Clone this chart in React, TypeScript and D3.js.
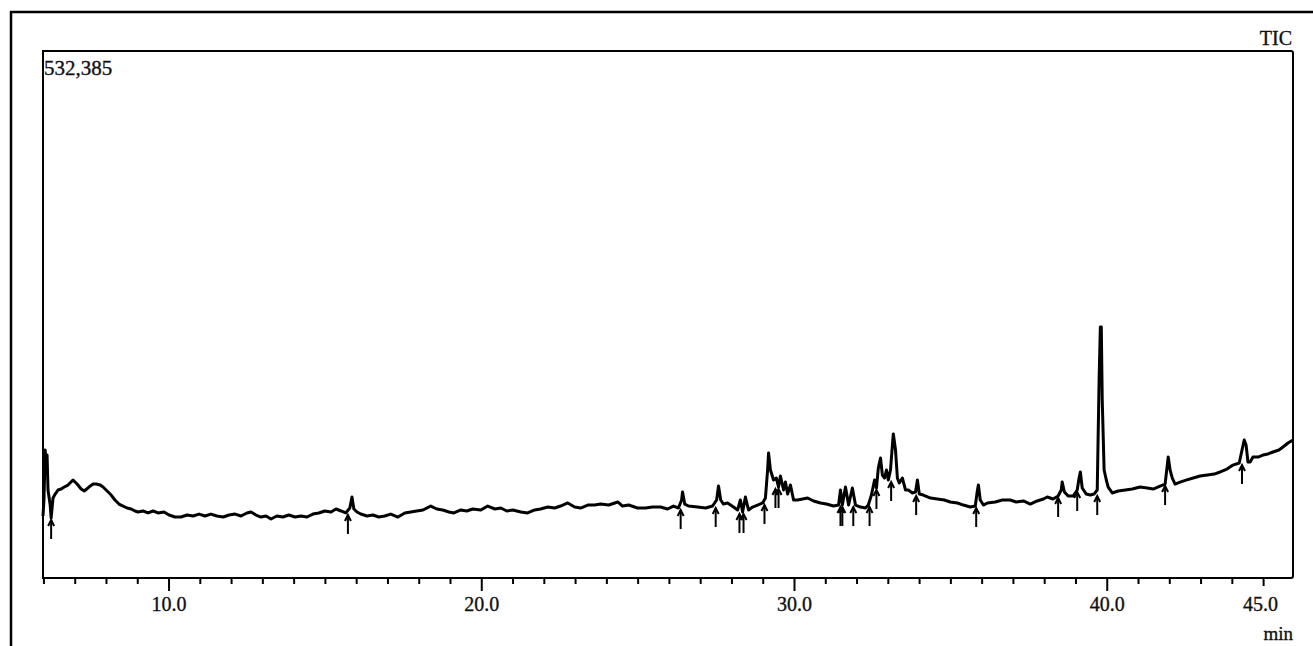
import { useEffect, useRef } from "react";
import * as d3 from "d3";

// retention time (min) of each sampled point of the TIC trace
const retentionTimes = [
  5.97, 6.0, 6.04, 6.07, 6.1, 6.13, 6.2, 6.23, 6.29, 6.36, 6.45, 6.55, 6.65, 6.77, 6.93, 7.06, 7.19, 7.29, 7.44, 7.57,
  7.67, 7.8, 7.89, 8.02, 8.15, 8.27, 8.4, 8.53, 8.66, 8.79, 8.91, 9.01, 9.17, 9.33, 9.49, 9.65, 9.84, 10.0, 10.19, 10.38,
  10.58, 10.77, 10.96, 11.15, 11.34, 11.53, 11.73, 11.92, 12.11, 12.3, 12.49, 12.62, 12.78, 12.94, 13.1, 13.26, 13.45,
  13.64, 13.83, 14.03, 14.22, 14.41, 14.6, 14.79, 14.98, 15.18, 15.34, 15.5, 15.65, 15.78, 15.85, 15.91, 16.01, 16.13,
  16.33, 16.52, 16.71, 16.9, 17.09, 17.32, 17.54, 17.73, 17.92, 18.12, 18.37, 18.56, 18.75, 18.95, 19.11, 19.33, 19.52,
  19.71, 19.97, 20.19, 20.42, 20.61, 20.8, 20.99, 21.25, 21.47, 21.69, 21.88, 22.11, 22.33, 22.52, 22.75, 22.97, 23.16,
  23.39, 23.61, 23.8, 24.06, 24.35, 24.5, 24.7, 24.98, 25.24, 25.46, 25.72, 25.94, 26.13, 26.29, 26.39, 26.42, 26.49,
  26.61, 26.9, 27.16, 27.38, 27.51, 27.57, 27.64, 27.73, 27.86, 28.05, 28.18, 28.27, 28.34, 28.43, 28.53, 28.66, 28.82,
  28.98, 29.07, 29.14, 29.17, 29.23, 29.33, 29.42, 29.49, 29.55, 29.65, 29.71, 29.78, 29.87, 29.97, 30.1, 30.26, 30.42,
  30.61, 30.83, 31.02, 31.25, 31.41, 31.47, 31.53, 31.63, 31.73, 31.85, 31.95, 32.11, 32.27, 32.36, 32.46, 32.56, 32.62,
  32.68, 32.75, 32.81, 32.88, 32.94, 33.0, 33.07, 33.13, 33.16, 33.23, 33.29, 33.35, 33.45, 33.55, 33.64, 33.77, 33.87,
  33.93, 33.99, 34.12, 34.35, 34.57, 34.79, 34.98, 35.21, 35.4, 35.62, 35.78, 35.85, 35.88, 35.94, 36.04, 36.17, 36.42,
  36.65, 36.9, 37.09, 37.32, 37.54, 37.76, 37.96, 38.08, 38.27, 38.43, 38.53, 38.56, 38.63, 38.75, 38.91, 39.04, 39.1,
  39.14, 39.2, 39.33, 39.46, 39.58, 39.68, 39.74, 39.78, 39.81, 39.84, 39.9, 39.97, 40.03, 40.16, 40.35, 40.58, 40.8,
  41.05, 41.28, 41.47, 41.69, 41.85, 41.92, 41.95, 42.01, 42.08, 42.17, 42.33, 42.52, 42.75, 42.97, 43.2, 43.42, 43.61,
  43.83, 44.02, 44.22, 44.31, 44.38, 44.44, 44.5, 44.57, 44.66, 44.82, 44.98, 45.14, 45.3, 45.49, 45.62, 45.78, 45.94,
];

// total ion count
const ticCounts = [
  62600, 78800, 129300, 109100, 124200, 88900, 73700, 60600, 80800, 84800, 88900, 89900, 91900, 93900, 99000, 94900, 89900,
  87900, 91900, 94900, 94900, 93900, 91900, 87900, 83800, 78800, 74700, 72700, 70700, 69700, 67700, 66700, 67700, 65700,
  67700, 65700, 66700, 63600, 61600, 61600, 63600, 62600, 64600, 62600, 64600, 62600, 61600, 63600, 64600, 62600, 65700,
  66700, 63600, 61600, 62600, 59600, 62600, 61600, 63600, 61600, 62600, 61600, 64600, 65700, 67700, 66700, 69700, 67700,
  65700, 70700, 81800, 69700, 66700, 64600, 62600, 63600, 61600, 62600, 64600, 61600, 65700, 66700, 67700, 68700, 72700,
  69700, 68700, 66700, 65700, 68700, 67700, 69700, 68700, 72700, 69700, 70700, 67700, 68700, 66700, 65700, 68700, 69700,
  71700, 70700, 72700, 75800, 71700, 70700, 73700, 73700, 74700, 73700, 76800, 72700, 73700, 70700, 70700, 71700, 71700,
  69700, 72700, 70700, 78800, 86900, 74700, 72700, 71700, 70700, 72700, 78800, 92900, 78800, 74700, 75800, 71700, 68700,
  78800, 66700, 81800, 68700, 71700, 73700, 75800, 80800, 109100, 126300, 109100, 99000, 101000, 91900, 103000, 88900,
  97000, 84800, 93900, 78800, 78800, 79800, 80800, 77800, 75800, 74700, 72700, 73700, 88900, 73700, 91900, 73700, 90900,
  73700, 71700, 70700, 73700, 83800, 99000, 90900, 111100, 121200, 104000, 101000, 109100, 99000, 109100, 134300, 145500,
  129300, 101000, 95900, 101000, 88900, 88900, 85900, 86900, 99000, 84800, 83800, 80800, 79800, 78800, 76800, 75800, 73700,
  71700, 72700, 88900, 93900, 78800, 73700, 75800, 76800, 78800, 78800, 76800, 77800, 74700, 77800, 79800, 81800, 79800,
  82800, 88900, 97000, 86900, 82800, 82800, 88900, 101000, 107100, 90900, 84800, 83800, 84800, 88900, 200000, 253500,
  253500, 179800, 109100, 99000, 91900, 85900, 87900, 88900, 89900, 91900, 90900, 89900, 92900, 94900, 114100, 122200,
  109100, 101000, 94900, 96900, 98900, 101000, 103000, 104000, 105000, 107100, 110100, 114100, 116200, 129300, 139400,
  134300, 117200, 117200, 122200, 122200, 124200, 125300, 127300, 129300, 132300, 136400, 139400,
];

// integration start/end markers (little up arrows under the baseline)
const peakMarkers = [
  6.23, 15.72, 26.36, 27.48, 28.24, 28.37, 29.04, 29.39, 29.49, 31.47, 31.53, 31.88, 32.4, 32.62, 33.09, 33.89, 35.81,
  38.43, 39.04, 39.68, 41.85, 44.31,
];

const majorTicks = [10, 20, 30, 40];
const labeledTicks = [10, 20, 30, 40, 45];
const minorTicks = d3.range(6, 46, 1);
const maxCount = 532385;
const countLabel = "532,385";
const traceLabel = "TIC";
const unitLabel = "min";

const W = 1313;
const H = 646;
const margin = { left: 43, right: 20, top: 51, bottom: 68 };
const FONT = "'Liberation Serif', 'Times New Roman', serif";

export default function App() {
  const ref = useRef<SVGSVGElement | null>(null);

  useEffect(() => {
    const svg = d3.select(ref.current);
    svg.selectAll("*").remove();

    const x0 = margin.left;
    const x1 = W - margin.right;
    const y0 = margin.top;
    const y1 = H - margin.bottom;

    const x = d3.scaleLinear().domain([5.97, 45.94]).range([x0, x1]);
    const y = d3.scaleLinear().domain([0, maxCount]).range([y1, y0]);

    // outer border (only top and left fall inside the window)
    svg.append("rect")
      .attr("x", 11).attr("y", 12)
      .attr("width", W + 40).attr("height", H + 40)
      .attr("fill", "none").attr("stroke", "#000").attr("stroke-width", 2.5);

    // inner frame
    svg.append("path")
      .attr("d", `M${x0},${y1} L${x0},${y0} L${x1 - 2},${y0} Q${x1},${y0} ${x1},${y0 + 2} L${x1},${y1 - 2} Q${x1},${y1} ${x1 - 2},${y1} Z`)
      .attr("fill", "none").attr("stroke", "#000").attr("stroke-width", 2);

    // ticks
    const tickG = svg.append("g").attr("stroke", "#000").attr("stroke-width", 2);
    minorTicks.forEach(t => {
      const long = majorTicks.includes(t);
      const len = long ? 13 : t === 45 ? 8 : 6;
      tickG.append("line")
        .attr("x1", x(t)).attr("x2", x(t))
        .attr("y1", y1).attr("y2", y1 + len);
    });

    const addText = (tx: number, ty: number, s: string, anchor: string, size: number) =>
      svg.append("text")
        .attr("x", tx).attr("y", ty)
        .attr("text-anchor", anchor)
        .attr("font-family", FONT).attr("font-size", size)
        .attr("fill", "#111").attr("stroke", "#111").attr("stroke-width", 0.35)
        .text(s);

    labeledTicks.forEach(t => {
      addText(x(t) - (t === 45 ? 3 : 0), y1 + 33, t.toFixed(1), "middle", 20);
    });
    addText(x1, H - 6, unitLabel, "end", 19);
    addText(x1 - 1, y0 - 6, traceLabel, "end", 20);
    addText(x0 + 1, y0 + 24, countLabel, "start", 21);

    // trace
    const pts: [number, number][] = retentionTimes.map((t, i) => [t, ticCounts[i]]);
    const line = d3.line<[number, number]>().x(d => x(d[0])).y(d => y(d[1]));
    svg.append("path")
      .datum(pts)
      .attr("d", line)
      .attr("fill", "none")
      .attr("stroke", "#000")
      .attr("stroke-width", 3)
      .attr("stroke-linejoin", "round");

    // peak markers: arrow pointing up at the local baseline
    const arrowG = svg.append("g").attr("stroke", "#000").attr("stroke-width", 2).attr("fill", "none");
    peakMarkers.forEach(t => {
      const near = pts.filter(p => Math.abs(p[0] - t) < 0.12).map(p => p[1]);
      const base = near.length ? d3.min(near)! : 0;
      const px = x(t);
      const tip = y(base) + 2;
      arrowG.append("line").attr("x1", px).attr("x2", px).attr("y1", tip).attr("y2", tip + 19);
      arrowG.append("path").attr("d", `M${px - 3},${tip + 6} L${px},${tip} L${px + 3},${tip + 6}`);
    });
  }, []);

  return (
    <svg
      ref={ref}
      width={W}
      height={H}
      viewBox={`0 0 ${W} ${H}`}
      style={{ position: "fixed", left: 0, top: 0, background: "#fff" }}
    />
  );
}
